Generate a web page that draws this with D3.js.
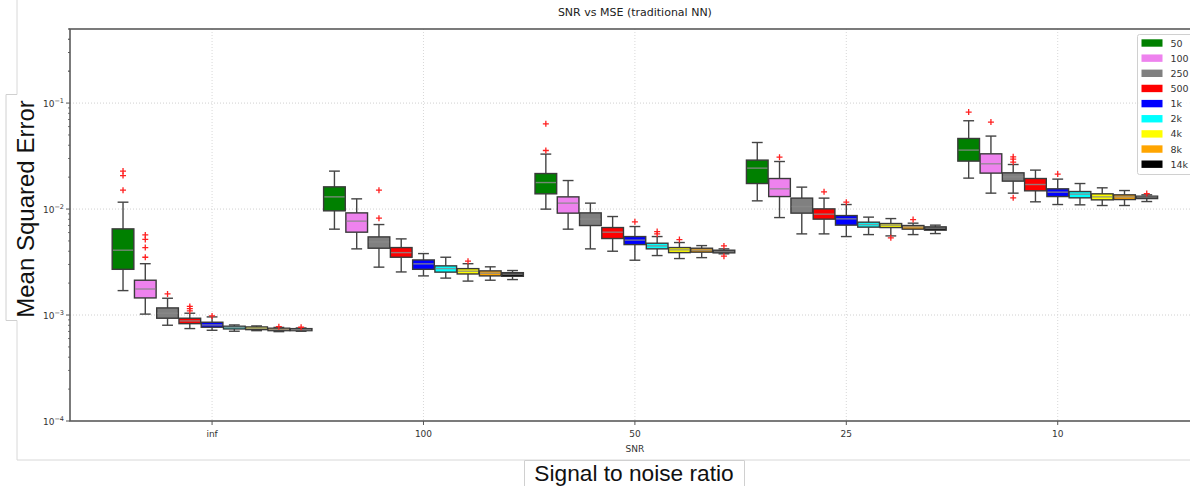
<!DOCTYPE html>
<html><head><meta charset="utf-8">
<script src="https://cdn.jsdelivr.net/npm/d3@7"></script>
<style>body{margin:0;background:#fff;overflow:hidden} svg{display:block;font-family:"DejaVu Sans",sans-serif;}</style>
</head><body><svg id="c" width="1190" height="486"></svg>
<script>
// ---- data ----
const snrLabels = ["inf", "100", "50", "25", "10"];
const sizeLabels = ["50", "100", "250", "500", "1k", "2k", "4k", "8k", "14k"];
const sizeColors = ["#008000", "#ee82ee", "#808080", "#ff0000", "#0000ff", "#00ffff", "#ffff00", "#ffa500", "#000000"];
const yTickExponents = [-4, -3, -2, -1];

const whiskerHigh = [
  [0.01161, 0.00305, 0.00144, 0.00104, 0.00096, 0.000806, 0.000789, 0.000764, 0.000755],
  [0.0228, 0.01248, 0.00714, 0.00523, 0.0038, 0.00351, 0.00305, 0.00285, 0.00263],
  [0.033, 0.01858, 0.01137, 0.0085, 0.00684, 0.0055, 0.00483, 0.00452, 0.00421],
  [0.04246, 0.02809, 0.0161, 0.01268, 0.01103, 0.00839, 0.00813, 0.00736, 0.00705],
  [0.0681, 0.04881, 0.02632, 0.0233, 0.01916, 0.01741, 0.01586, 0.01495, 0.01362]
];
const q3 = [
  [0.0065, 0.00213, 0.001167, 0.000933, 0.000855, 0.000784, 0.000772, 0.000751, 0.000744],
  [0.0162, 0.0092, 0.00546, 0.00433, 0.00331, 0.00291, 0.00274, 0.00261, 0.00251],
  [0.02163, 0.01303, 0.0092, 0.00669, 0.0055, 0.00476, 0.00433, 0.00427, 0.00409],
  [0.02896, 0.01941, 0.01268, 0.01004, 0.00868, 0.00752, 0.0073, 0.00699, 0.00679],
  [0.04633, 0.0332, 0.02197, 0.01941, 0.01552, 0.01463, 0.01392, 0.01362, 0.01323]
];
const medians = [
  [0.00409, 0.00176, 0.00104, 0.00088, 0.000806, 0.000764, 0.000751, 0.000731, 0.000728],
  [0.01303, 0.00769, 0.0049, 0.00388, 0.00304, 0.00274, 0.00259, 0.00248, 0.00243],
  [0.01778, 0.01137, 0.00803, 0.00605, 0.00509, 0.00449, 0.00412, 0.00409, 0.00397],
  [0.02433, 0.01552, 0.01056, 0.00895, 0.00808, 0.00714, 0.00705, 0.00679, 0.0066],
  [0.036, 0.02673, 0.02014, 0.01704, 0.01444, 0.01382, 0.01303, 0.01303, 0.01295]
];
const q1 = [
  [0.0027, 0.00145, 0.000933, 0.000829, 0.000767, 0.000739, 0.000728, 0.000712, 0.000712],
  [0.00962, 0.00605, 0.00427, 0.00351, 0.0027, 0.00254, 0.00244, 0.00234, 0.00232],
  [0.01392, 0.00915, 0.00699, 0.00527, 0.00462, 0.00421, 0.00388, 0.00392, 0.00386],
  [0.01741, 0.01312, 0.00915, 0.00803, 0.00705, 0.00675, 0.00669, 0.00646, 0.00632],
  [0.02834, 0.02183, 0.01834, 0.01486, 0.01312, 0.01276, 0.01221, 0.01229, 0.01256]
];
const whiskerLow = [
  [0.0017, 0.00102, 0.000801, 0.000745, 0.000718, 0.000703, 0.000712, 0.000697, 0.000703],
  [0.00646, 0.00421, 0.00283, 0.00255, 0.00234, 0.00223, 0.00209, 0.00213, 0.00216],
  [0.00998, 0.00646, 0.00421, 0.004, 0.00329, 0.00364, 0.00341, 0.00348, 0.00378],
  [0.01195, 0.00831, 0.00583, 0.00583, 0.0055, 0.00574, 0.00558, 0.00574, 0.00587],
  [0.01958, 0.01413, 0.01413, 0.0117, 0.01103, 0.01096, 0.0108, 0.0108, 0.01177]
];
const fliers = [
  [[0.0228, 0.0207, 0.01508], [0.0057, 0.00517, 0.00433, 0.00351], [0.00158], [0.001206, 0.00115, 0.001093], [0.00098], [], [], [0.000777], [0.000767]],
  [[], [], [0.01508, 0.0082], [], [], [], [0.00322], [], []],
  [[0.0637, 0.0357], [], [], [], [0.00757], [0.00613, 0.00583], [0.00515], [], [0.00449, 0.00359]],
  [[], [0.0309], [], [0.01453], [0.01161], [], [0.00535], [0.00796], []],
  [[0.0822], [0.06617], [0.03111, 0.02959, 0.02773, 0.01276], [], [0.02136], [], [], [], [0.014]]
];

// ---- layout ----
const svg = d3.select("#c");
const AX = {l: 70, r: 1200, t: 29, b: 421};
const x = d3.scaleLinear().domain([0.328, 5.673]).range([AX.l, AX.r]);
const y = d3.scaleLog().domain([1e-4, 0.5]).range([AX.b, AX.t]);
const step = 0.1053, boxW = 0.1025;

// figure frame (faint)
svg.append("path").attr("d", `M17,0V460H1190`).attr("fill", "none").attr("stroke", "#d8d8d8").attr("stroke-width", 1);

// grid
const g = svg.append("g");
yTickExponents.filter(e => e > -4).forEach(e => {
  g.append("line").attr("x1", AX.l).attr("x2", AX.r).attr("y1", y(Math.pow(10, e))).attr("y2", y(Math.pow(10, e)))
    .attr("stroke", "#d0d0d0").attr("stroke-width", 1).attr("stroke-dasharray", "1,2");
});
snrLabels.forEach((s, i) => {
  g.append("line").attr("x1", x(i + 1)).attr("x2", x(i + 1)).attr("y1", AX.t).attr("y2", AX.b)
    .attr("stroke", "#d8d8d8").attr("stroke-width", 1).attr("stroke-dasharray", "1,2");
});

// boxes
const bx = svg.append("g");
snrLabels.forEach((s, gi) => {
  sizeLabels.forEach((sz, j) => {
    const cx = x(gi + 1 + (j - 4) * step);
    const hw = (x(boxW) - x(0)) / 2;
    const cw = hw / 2;
    const grp = bx.append("g");
    // whiskers
    grp.append("line").attr("x1", cx).attr("x2", cx).attr("y1", y(q3[gi][j])).attr("y2", y(whiskerHigh[gi][j])).attr("stroke", "#444").attr("stroke-width", 1.4);
    grp.append("line").attr("x1", cx).attr("x2", cx).attr("y1", y(q1[gi][j])).attr("y2", y(whiskerLow[gi][j])).attr("stroke", "#444").attr("stroke-width", 1.4);
    grp.append("line").attr("x1", cx - cw).attr("x2", cx + cw).attr("y1", y(whiskerHigh[gi][j])).attr("y2", y(whiskerHigh[gi][j])).attr("stroke", "#444").attr("stroke-width", 1.4);
    grp.append("line").attr("x1", cx - cw).attr("x2", cx + cw).attr("y1", y(whiskerLow[gi][j])).attr("y2", y(whiskerLow[gi][j])).attr("stroke", "#444").attr("stroke-width", 1.4);
    // box
    grp.append("rect").attr("x", cx - hw).attr("width", 2 * hw)
      .attr("y", y(q3[gi][j])).attr("height", Math.max(0.5, y(q1[gi][j]) - y(q3[gi][j])))
      .attr("fill", sizeColors[j]).attr("stroke", "#3a3a3a").attr("stroke-width", 1.4);
    // median
    grp.append("line").attr("x1", cx - hw + 0.7).attr("x2", cx + hw - 0.7).attr("y1", y(medians[gi][j])).attr("y2", y(medians[gi][j]))
      .attr("stroke", "#8a8a8a").attr("stroke-opacity", 0.85).attr("stroke-width", 1.4);
    // fliers
    fliers[gi][j].forEach(v => {
      grp.append("path").attr("transform", `translate(${cx},${y(v)})`).attr("d", "M-3,0H3M0,-3V3")
        .attr("stroke", "#ff2020").attr("stroke-width", 1.3).attr("fill", "none");
    });
  });
});

// spines
svg.append("rect").attr("x", AX.l).attr("y", AX.t).attr("width", AX.r - AX.l).attr("height", AX.b - AX.t)
  .attr("fill", "none").attr("stroke", "#5a5a5a").attr("stroke-width", 1.6);

// y ticks
const yt = svg.append("g");
yTickExponents.forEach(e => {
  const yy = y(Math.pow(10, e));
  yt.append("line").attr("x1", AX.l - 4).attr("x2", AX.l).attr("y1", yy).attr("y2", yy).attr("stroke", "#555").attr("stroke-width", 1);
  const t = yt.append("text").attr("x", AX.l - 6).attr("y", yy + 3.5).attr("text-anchor", "end").attr("font-size", 9).attr("fill", "#333");
  t.append("tspan").text("10");
  t.append("tspan").attr("dy", -4).attr("font-size", 6.5).text("\u2212" + Math.abs(e));
  for (let m = 2; m <= 9; m++) {
    const v = m * Math.pow(10, e);
    if (v > 0.5) continue;
    yt.append("line").attr("x1", AX.l - 2).attr("x2", AX.l).attr("y1", y(v)).attr("y2", y(v)).attr("stroke", "#555").attr("stroke-width", 0.8);
  }
});
// also minor ticks above 0.1
for (let m = 2; m <= 5; m++) {
  const v = m * 0.1;
  yt.append("line").attr("x1", AX.l - 2).attr("x2", AX.l).attr("y1", y(v)).attr("y2", y(v)).attr("stroke", "#555").attr("stroke-width", 0.8);
}

// x ticks
snrLabels.forEach((s, i) => {
  svg.append("line").attr("x1", x(i + 1)).attr("x2", x(i + 1)).attr("y1", AX.b).attr("y2", AX.b + 4).attr("stroke", "#555").attr("stroke-width", 1);
  svg.append("text").attr("x", x(i + 1)).attr("y", 436.5).attr("text-anchor", "middle").attr("font-size", 9).attr("fill", "#333").text(s);
});
svg.append("text").attr("x", x(3)).attr("y", 451.5).attr("text-anchor", "middle").attr("font-size", 9).attr("fill", "#333").text("SNR");

// title
svg.append("text").attr("x", x(3)).attr("y", 16).attr("text-anchor", "middle").attr("font-size", 11).attr("fill", "#222").text("SNR vs MSE (traditional NN)");

// legend
const lg = svg.append("g");
lg.append("rect").attr("x", 1137.5).attr("y", 34.5).attr("width", 70).attr("height", 140).attr("rx", 2)
  .attr("fill", "#fff").attr("fill-opacity", 0.85).attr("stroke", "#d0d0d0").attr("stroke-width", 1);
sizeLabels.forEach((s, j) => {
  const cy = 43 + j * 15.15;
  lg.append("rect").attr("x", 1141.5).attr("y", cy - 3.7).attr("width", 21).attr("height", 7.4).attr("fill", sizeColors[j]);
  lg.append("text").attr("x", 1170.5).attr("y", cy + 3.5).attr("font-size", 9.5).attr("fill", "#333").text(s);
});

// overlay label boxes (pasted labels)
svg.append("rect").attr("x", 6).attr("y", 94.5).attr("width", 32).attr("height", 226).attr("fill", "#fff");
svg.append("path").attr("d", "M17,94.5H6V320.5H17").attr("fill", "none").attr("stroke", "#d0d0d0").attr("stroke-width", 1);
svg.append("text").attr("transform", "translate(33.5,209) rotate(-90)").attr("text-anchor", "middle")
  .attr("font-family", "Liberation Sans, Arial, sans-serif").attr("font-size", 24).attr("fill", "#111").text("Mean Squared Error");

svg.append("rect").attr("x", 524.5).attr("y", 460).attr("width", 220).attr("height", 30).attr("fill", "#fff");
svg.append("path").attr("d", "M524.5,486V460.5H744.5V486").attr("fill", "none").attr("stroke", "#d0d0d0").attr("stroke-width", 1);
svg.append("text").attr("x", 634).attr("y", 480.5).attr("text-anchor", "middle")
  .attr("font-family", "Liberation Sans, Arial, sans-serif").attr("font-size", 22.7).attr("fill", "#111").text("Signal to noise ratio");
</script>
</body></html>
